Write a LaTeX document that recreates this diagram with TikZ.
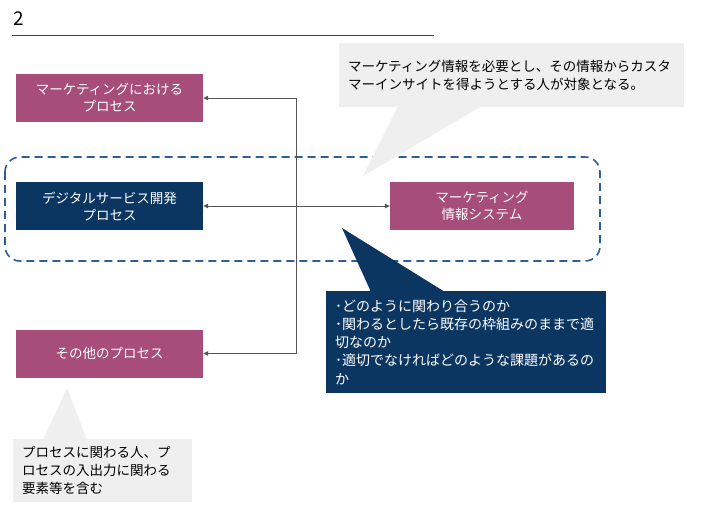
\documentclass[tikz,border=0pt]{standalone}
\usepackage{fontspec}
\setmainfont{Noto Sans CJK JP}
\usetikzlibrary{arrows.meta}
\definecolor{pinkc}{HTML}{A64D79}
\definecolor{navyc}{HTML}{0B3662}
\definecolor{grayc}{HTML}{EFEFEF}
\definecolor{dashc}{HTML}{2C5E9C}
\definecolor{linec}{HTML}{555555}
\tikzset{
  procbox/.style={minimum width=187pt, minimum height=48pt, inner sep=0pt, align=center,
    text=white, font=\fontsize{13.5}{17}\selectfont},
  pinkbox/.style={procbox, fill=pinkc},
  navybox/.style={procbox, fill=navyc},
  conn/.style={draw=linec, line width=0.8pt, {Triangle[length=5pt,width=4.5pt]}-{Triangle[length=5pt,width=4.5pt]}},
  calloutbody/.style={inner xsep=9pt, inner ysep=0pt, align=left, font=\fontsize{13.5}{18}\selectfont},
  graycall/.style={calloutbody, fill=grayc, text=black},
  navycall/.style={calloutbody, fill=navyc, text=white},
  groupframe/.style={draw=dashc, line width=1.6pt, dash pattern=on 8pt off 5pt, rounded corners=15pt},
}
\begin{document}
\begin{tikzpicture}[x=1pt,y=-1pt]
\useasboundingbox (0,0) rectangle (703,520);
% header
\node[font=\fontsize{19}{22}\selectfont, inner sep=0pt] (num) at (19,18.5) {2};
\coordinate (hl) at (12,35);
\coordinate (hr) at (434,35);
\draw[line width=0.8pt, draw=black!75] (hl) -- (hr);
% group frame
\coordinate (g1) at (5,157);
\coordinate (g2) at (600,261);
\draw[groupframe] (g1) rectangle (g2);
% boxes
\node[pinkbox] (A) at (109.5,98) {マーケティングにおける\\プロセス};
\node[navybox] (B) at (109.5,206) {デジタルサービス開発\\プロセス};
\node[pinkbox] (C) at (109.5,353.5) {その他のプロセス};
\node[pinkbox, minimum width=184pt] (D) at (482,206) {マーケティング\\情報システム};
% connectors
\coordinate (j1) at (296,98);
\coordinate (j2) at (296,353.5);
\draw[conn] (A.east) -- (j1) -- (j2) -- (C.east);
\draw[conn] (B.east) -- (D.west);
% top callout
\coordinate (t1) at (363,176);
\fill[grayc] (t1) -- (398,106) -- (482,106) -- cycle;
\node[graycall, text width=327pt, minimum height=64pt] (T) at (511.5,75)
  {マーケティング情報を必要とし、その情報からカスタ\\マーインサイトを得ようとする人が対象となる。};
% navy callout
\coordinate (n1) at (342,228);
\fill[navyc] (n1) -- (371,292) -- (445,292) -- cycle;
\node[navycall, text width=262pt, minimum height=102pt, font=\fontsize{14}{18.3}\selectfont] (N) at (466,342)
  {･どのように関わり合うのか\\･関わるとしたら既存の枠組みのままで適\\切なのか\\･適切でなければどのような課題があるの\\か};
% bottom callout
\coordinate (b1) at (67,388);
\fill[grayc] (b1) -- (43,440) -- (87,440) -- cycle;
\node[graycall, text width=161pt, minimum height=63pt] (L) at (102.5,470.5)
  {プロセスに関わる人、プ\\ロセスの入出力に関わる\\要素等を含む};
\end{tikzpicture}
\end{document}
